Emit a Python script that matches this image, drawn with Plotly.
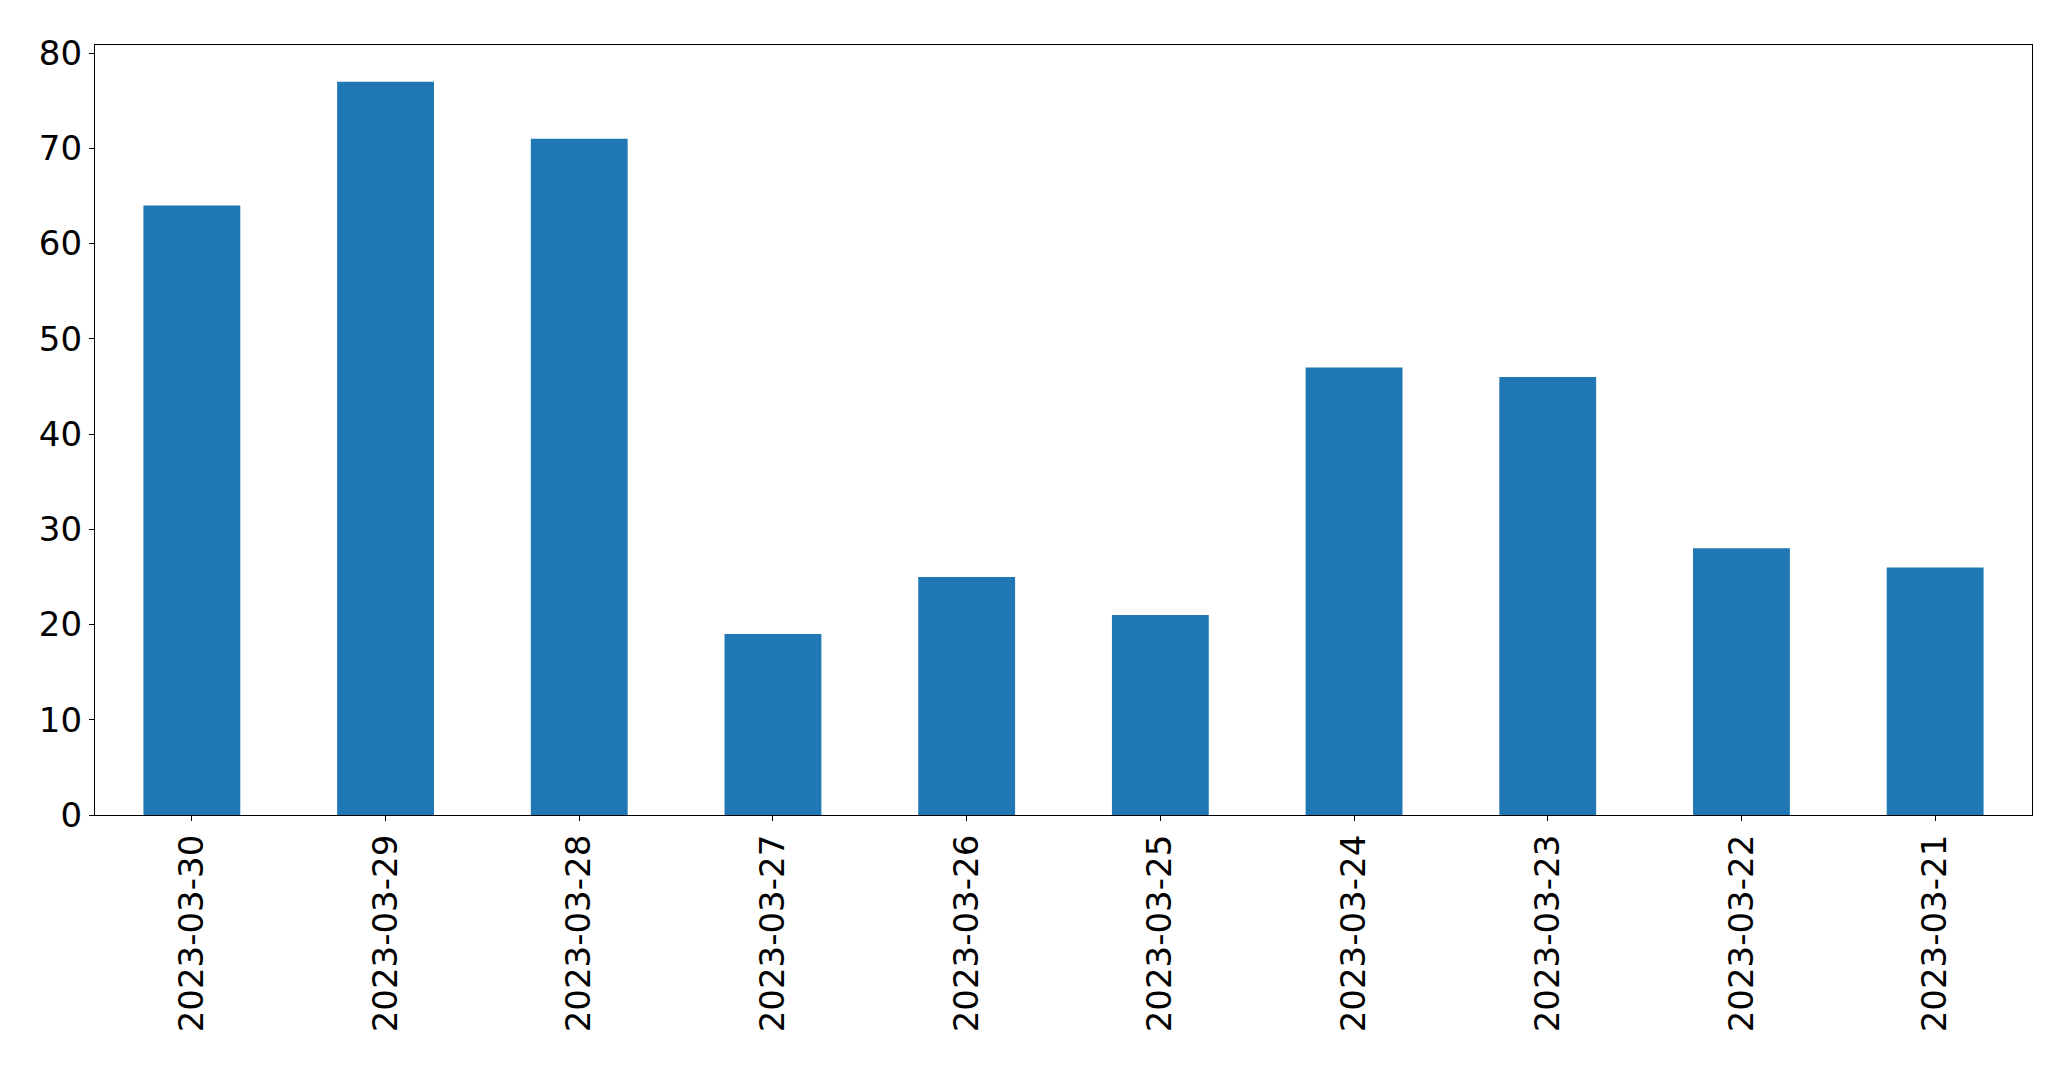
import plotly.graph_objects as go

dates = ["2023-03-30", "2023-03-29", "2023-03-28", "2023-03-27", "2023-03-26",
         "2023-03-25", "2023-03-24", "2023-03-23", "2023-03-22", "2023-03-21"]
counts = [64, 77, 71, 19, 25, 21, 47, 46, 28, 26]
y_ticks = [0, 10, 20, 30, 40, 50, 60, 70, 80]

fig = go.Figure(go.Bar(x=dates, y=counts, width=0.5, marker_color="#1f77b4",
                       marker_line_width=0))

W, H = 2071, 1067
fig.update_layout(
    width=W, height=H,
    margin=dict(l=87, r=47, t=37, b=260, pad=0),
    paper_bgcolor="white", plot_bgcolor="white",
    font=dict(family="DejaVu Sans", size=34, color="black"),
    showlegend=False,
)
fig.update_xaxes(type="category", range=[-0.5, 9.5], tickangle=-90,
                 showline=True, linecolor="black", linewidth=1.3, mirror=True,
                 ticks="outside", ticklen=5, tickwidth=1.3, tickcolor="black",
                 showgrid=False, zeroline=False)
fig.update_yaxes(range=[0, 80.85], tickvals=y_ticks,
                 showline=True, linecolor="black", linewidth=1.3, mirror=True,
                 ticks="outside", ticklen=5, tickwidth=1.3, tickcolor="black",
                 showgrid=False, zeroline=False)

fig.write_html("out.html")
